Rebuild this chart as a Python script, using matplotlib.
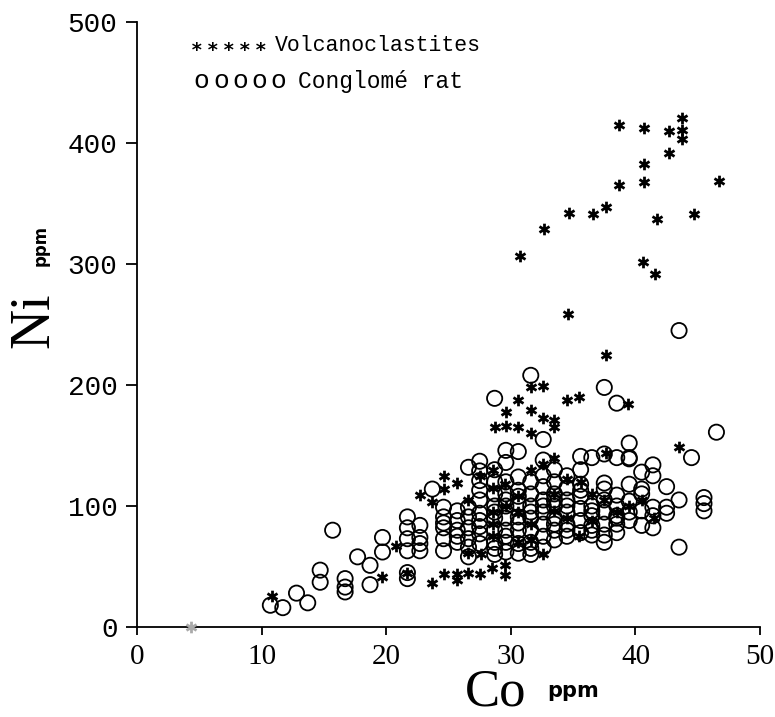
import numpy as np
import matplotlib.pyplot as plt
from matplotlib.path import Path

# Volcanoclastites (stars): Co ppm, Ni ppm
volc_co = [30.7, 32.7, 34.7, 36.6, 37.6, 38.7, 40.7, 42.7, 43.7, 43.7, 43.7, 42.7,
           40.7, 40.7, 38.7, 46.7, 41.7, 44.7, 40.6, 41.6, 34.6, 37.6,
           31.6, 32.6, 30.6, 34.5, 35.5, 39.4, 29.6, 31.6, 32.6, 33.5, 33.5,
           28.7, 29.6, 30.6, 31.6, 43.5, 37.6,
           10.8, 19.7, 20.8, 21.7, 22.7, 23.7, 23.7, 24.6, 24.6, 25.7, 24.6,
           25.7, 25.7, 26.6, 27.5, 28.5, 26.6, 27.6, 28.6, 28.6, 28.6, 28.6,
           29.5, 29.5, 29.6, 30.6, 31.6, 31.6, 32.6, 33.5, 34.5, 35.5, 36.5,
           38.5, 39.5, 40.5, 41.5, 27.5, 30.6, 32.6, 33.5, 35.6, 37.5, 26.6,
           29.5, 30.6, 31.6, 33.5, 34.5, 36.5, 28.6]
volc_ni = [307, 329, 342, 341, 347, 415, 412, 410, 421, 411, 403, 392,
           383, 368, 365, 369, 337, 341, 302, 292, 259, 225,
           198, 199, 188, 188, 190, 184, 178, 179, 173, 171, 165,
           165, 166, 165, 160, 149, 144,
           26, 41, 67, 45, 109, 103, 36, 125, 114, 119, 44,
           44, 39, 45, 44, 49, 61, 60, 130, 115, 95, 75,
           51, 43, 100, 95, 85, 130, 135, 110, 90, 75, 110,
           95, 100, 105, 90, 125, 70, 60, 140, 120, 105, 105,
           118, 108, 72, 96, 122, 88, 85]

# Conglomerat (open circles): Co ppm, Ni ppm
congl_co = [10.7, 11.7, 12.8, 13.7, 14.7, 14.7, 15.7, 16.7, 16.7, 16.7, 17.7,
            18.7, 18.7, 19.7, 19.7,
            21.7, 21.7, 21.7, 21.7, 21.7, 21.7,
            22.7, 22.7, 22.7, 23.7,
            24.6, 24.6, 24.6, 24.6, 24.6,
            25.7, 25.7, 25.7, 25.7,
            26.6, 26.6, 26.6, 26.6, 26.6, 26.6,
            27.5, 27.5, 27.5, 27.5, 27.5, 27.5, 27.5, 27.5, 27.5,
            28.7, 28.7, 28.7, 28.7, 28.7, 28.7, 28.7, 28.7, 28.7,
            29.6, 29.6, 29.6, 29.6, 29.6, 29.6, 29.6, 29.6, 29.6,
            30.6, 30.6, 30.6, 30.6, 30.6, 30.6, 30.6, 30.6,
            31.6, 31.6, 31.6, 31.6, 31.6, 31.6, 31.6, 31.6,
            32.6, 32.6, 32.6, 32.6, 32.6, 32.6, 32.6, 32.6, 32.6,
            33.5, 33.5, 33.5, 33.5, 33.5, 33.5, 33.5,
            34.5, 34.5, 34.5, 34.5, 34.5, 34.5,
            35.6, 35.6, 35.6, 35.6, 35.6, 35.6, 35.6,
            36.5, 36.5, 36.5, 36.5, 36.5,
            37.5, 37.5, 37.5, 37.5, 37.5, 37.5, 37.5, 37.5, 37.5,
            38.5, 38.5, 38.5, 38.5, 38.5, 38.5,
            39.5, 39.5, 39.5, 39.5, 39.5, 39.5, 39.5,
            40.5, 40.5, 40.5, 40.5, 40.5,
            41.4, 41.4, 41.4, 41.4, 41.4,
            42.5, 42.5, 42.5,
            43.5, 43.5, 43.5, 44.5,
            45.5, 45.5, 45.5, 46.5,
            # extra overlapping circles in the dense part
            27.5, 28.7, 28.7, 29.6, 29.6, 30.6, 30.6, 31.6, 31.6, 32.6,
            33.5, 33.5, 34.5, 34.5, 35.6, 36.5, 36.5, 38.5, 38.5, 22.7,
            24.6, 25.7, 26.6]
congl_ni = [18, 16, 28, 20, 37, 47, 80, 29, 33, 40, 58,
            35, 51, 62, 74,
            40, 45, 63, 73, 82, 91,
            63, 74, 84, 114,
            63, 73, 82, 91, 99,
            70, 80, 88, 96,
            58, 73, 82, 91, 99, 132,
            69, 77, 88, 94, 105, 113, 121, 129, 137,
            189, 60, 70, 80, 90, 100, 110, 120, 130,
            146, 136, 120, 110, 100, 90, 80, 70, 62,
            145, 124, 113, 102, 91, 80, 69, 61,
            208, 60, 70, 80, 90, 100, 110, 120,
            155, 138, 125, 116, 105, 95, 85, 75, 66,
            130, 120, 110, 100, 90, 80, 72,
            125, 115, 105, 95, 85, 75,
            141, 130, 118, 108, 98, 88, 78,
            140, 100, 92, 84, 76,
            198, 143, 119, 114, 105, 95, 85, 76, 70,
            185, 140, 109, 100, 92, 85,
            152, 139, 118, 104, 95, 88, 140,
            128, 114, 96, 84, 110,
            134, 125, 99, 92, 82,
            116, 99, 94,
            245, 105, 66, 140,
            107, 102, 96, 161,
            83, 65, 95, 75, 105, 86, 108, 65, 95, 100,
            85, 105, 80, 100, 113, 80, 96, 90, 78, 69,
            86, 75, 66]

# faint star lying on the axis
faint_co = [4.3]
faint_ni = [0]

x_ticks = [0, 10, 20, 30, 40, 50]
y_ticks = [0, 100, 200, 300, 400, 500]

# six-armed asterisk like the plotter symbol
arms = []
codes = []
for a in np.deg2rad([90, 30, -30]):
    arms += [(np.cos(a), np.sin(a)), (-np.cos(a), -np.sin(a))]
    codes += [Path.MOVETO, Path.LINETO]
star = Path(arms, codes)

fig = plt.figure(figsize=(7.75, 7.17), dpi=100)
ax = fig.add_axes([0.1768, 0.1255, 0.8039, 0.8438])

ax.scatter(congl_co, congl_ni, s=120, marker='o', facecolors='none',
           edgecolors='black', linewidths=1.3, zorder=2)
ax.scatter(volc_co, volc_ni, s=70, marker=star, color='black',
           linewidths=2.0, zorder=3)
ax.scatter(faint_co, faint_ni, s=70, marker=star, color='#aaaaaa',
           linewidths=2.0, zorder=3, clip_on=False)

ax.set_xlim(0, 50)
ax.set_ylim(0, 500)
ax.set_xticks(x_ticks)
ax.set_yticks(y_ticks)
ax.spines['top'].set_visible(False)
ax.spines['right'].set_visible(False)
for s in ['left', 'bottom']:
    ax.spines[s].set_linewidth(1.3)
ax.tick_params(axis='y', direction='out', length=8, width=1.3, pad=6,
               labelsize=20)
ax.tick_params(axis='x', direction='out', length=6, width=1.3, pad=6,
               labelsize=21)
for lab in ax.get_yticklabels():
    lab.set_family('Liberation Mono')
for lab in ax.get_xticklabels():
    lab.set_family('Liberation Serif')

# axis titles
fig.text(0.045, 0.553, 'Ni', rotation=90, fontsize=40, family='Liberation Serif',
         ha='center', va='center')
fig.text(0.053, 0.658, 'ppm', rotation=90, fontsize=12, family='DejaVu Sans',
         weight='bold', ha='center', va='center')
fig.text(0.64, 0.016, 'Co', fontsize=38, family='Liberation Serif',
         ha='center', va='baseline')
fig.text(0.74, 0.028, 'ppm', fontsize=15, family='DejaVu Sans',
         weight='bold', ha='center', va='baseline')

# legend written as text, like on the plot
for xs in [0.254, 0.275, 0.295, 0.316, 0.337]:
    fig.text(xs, 0.930, '*', fontsize=14, family='DejaVu Sans Mono',
             weight='bold', ha='center', va='center')
fig.text(0.355, 0.936, 'Volcanoclastites', fontsize=15.5, family='Liberation Mono',
         ha='left', va='center')
for xs in [0.260, 0.285, 0.310, 0.334, 0.359]:
    fig.text(xs, 0.887, 'o', fontsize=19, family='Liberation Mono',
             ha='center', va='center')
fig.text(0.384, 0.887, 'Conglomé rat', fontsize=16.5, family='Liberation Mono',
         ha='left', va='center')

fig.savefig('out.png', dpi=100, facecolor='white')
